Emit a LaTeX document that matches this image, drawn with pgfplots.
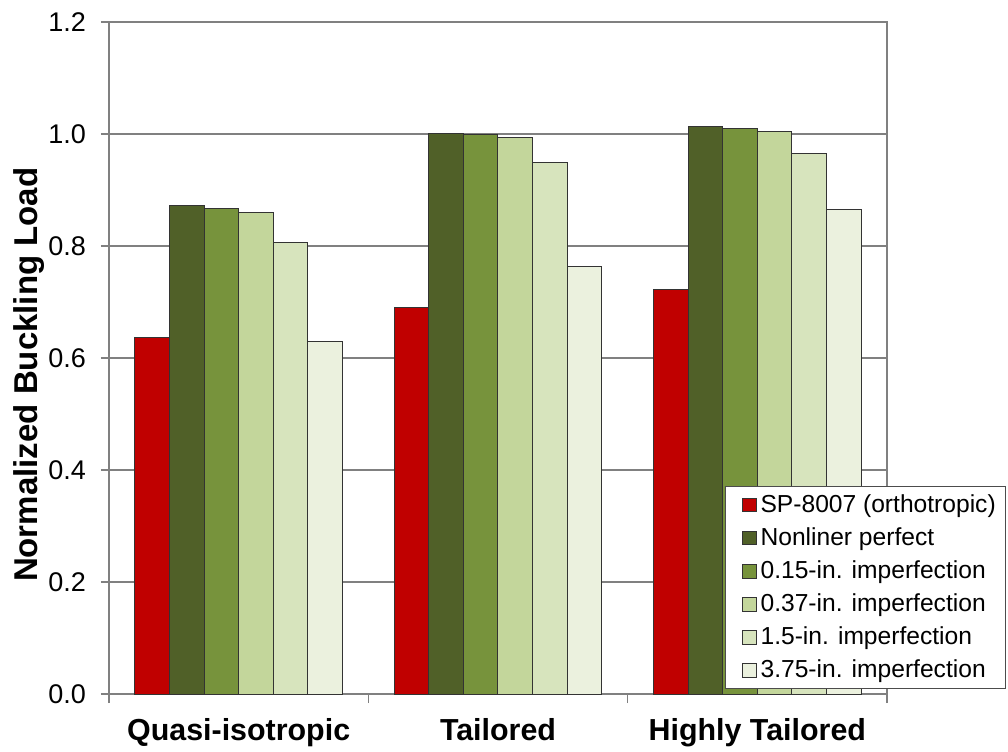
\documentclass[border=0pt]{standalone}
\usepackage{pgfplots}
\pgfplotsset{compat=1.18}
\usepackage{fontspec}
\setmainfont{Liberation Sans}
\definecolor{cRed}{RGB}{192,0,0}
\definecolor{cG1}{RGB}{80,96,40}
\definecolor{cG2}{RGB}{119,147,60}
\definecolor{cG3}{RGB}{195,214,155}
\definecolor{cG4}{RGB}{215,228,189}
\definecolor{cG5}{RGB}{235,241,222}
\definecolor{cGrid}{RGB}{128,128,128}
\begin{document}
\begin{tikzpicture}
\useasboundingbox (-54.5pt,-28.5pt) rectangle (449.5pt,347pt);
\begin{axis}[
  at={(0,0)}, anchor=south west,
  width=389pt, height=336pt, scale only axis,
  xmin=-0.5, xmax=2.5, ymin=0, ymax=1.2,
  ytick={0,0.2,0.4,0.6,0.8,1.0,1.2},
  /pgf/number format/fixed, /pgf/number format/fixed zerofill,
  /pgf/number format/precision=1, /pgf/number format/assume math mode=true,
  yticklabel style={font=\fontsize{13.5}{15}\selectfont, anchor=east, xshift=-4pt},
  ymajorgrids, grid style={cGrid, line width=0.75pt},
  axis line style={cGrid, line width=0.75pt},
  ytick style={cGrid, line width=0.75pt},
  ytick align=center, major tick length=8pt,
  ytick pos=left, xtick pos=bottom,
  xtick={0,1,2},
  xticklabels={Quasi-isotropic, Tailored, Highly Tailored},
  xticklabel style={font=\bfseries\fontsize{15.2}{17}\selectfont, anchor=base, yshift=-15pt},
  x tick style={draw=none},
  extra x ticks={-0.5,0.5,1.5,2.5},
  extra x tick labels={},
  extra x tick style={tick align=outside, major tick length=4.5pt, x tick style={draw=cGrid, line width=0.75pt}},
  ylabel={Normalized Buckling Load},
  ylabel style={font=\bfseries\fontsize{16.5}{18}\selectfont, at={(axis description cs:-0.103,0.475)}, anchor=center, rotate=0},
  ybar, bar width=0.13333,
  every axis plot/.append style={draw=black!80, line width=0.5pt},
  legend style={at={(rel axis cs:0.792,0.007)}, anchor=south west, draw=black!70, line width=0.5pt,
    font=\fontsize{12.3}{14}\selectfont, legend cell align=left, inner xsep=3pt, inner ysep=2pt,
    row sep=2.1pt},
  legend image code/.code={\path (0pt,0pt); \draw[#1, line width=0.4pt] (5pt,-3.3pt) rectangle (12pt,3.3pt);},
]
\addplot[fill=cRed, bar shift=-0.33333] coordinates {(0,0.637) (1,0.690) (2,0.723)};
\addplot[fill=cG1, bar shift=-0.2] coordinates {(0,0.872) (1,1.001) (2,1.013)};
\addplot[fill=cG2, bar shift=-0.06667] coordinates {(0,0.867) (1,0.999) (2,1.009)};
\addplot[fill=cG3, bar shift=0.06667] coordinates {(0,0.860) (1,0.993) (2,1.004)};
\addplot[fill=cG4, bar shift=0.2] coordinates {(0,0.807) (1,0.949) (2,0.965)};
\addplot[fill=cG5, bar shift=0.33333] coordinates {(0,0.629) (1,0.763) (2,0.866)};
\legend{SP-8007 (orthotropic), Nonliner perfect, 0.15-in. imperfection, 0.37-in. imperfection, 1.5-in. imperfection, 3.75-in. imperfection}
\end{axis}
\end{tikzpicture}
\end{document}
